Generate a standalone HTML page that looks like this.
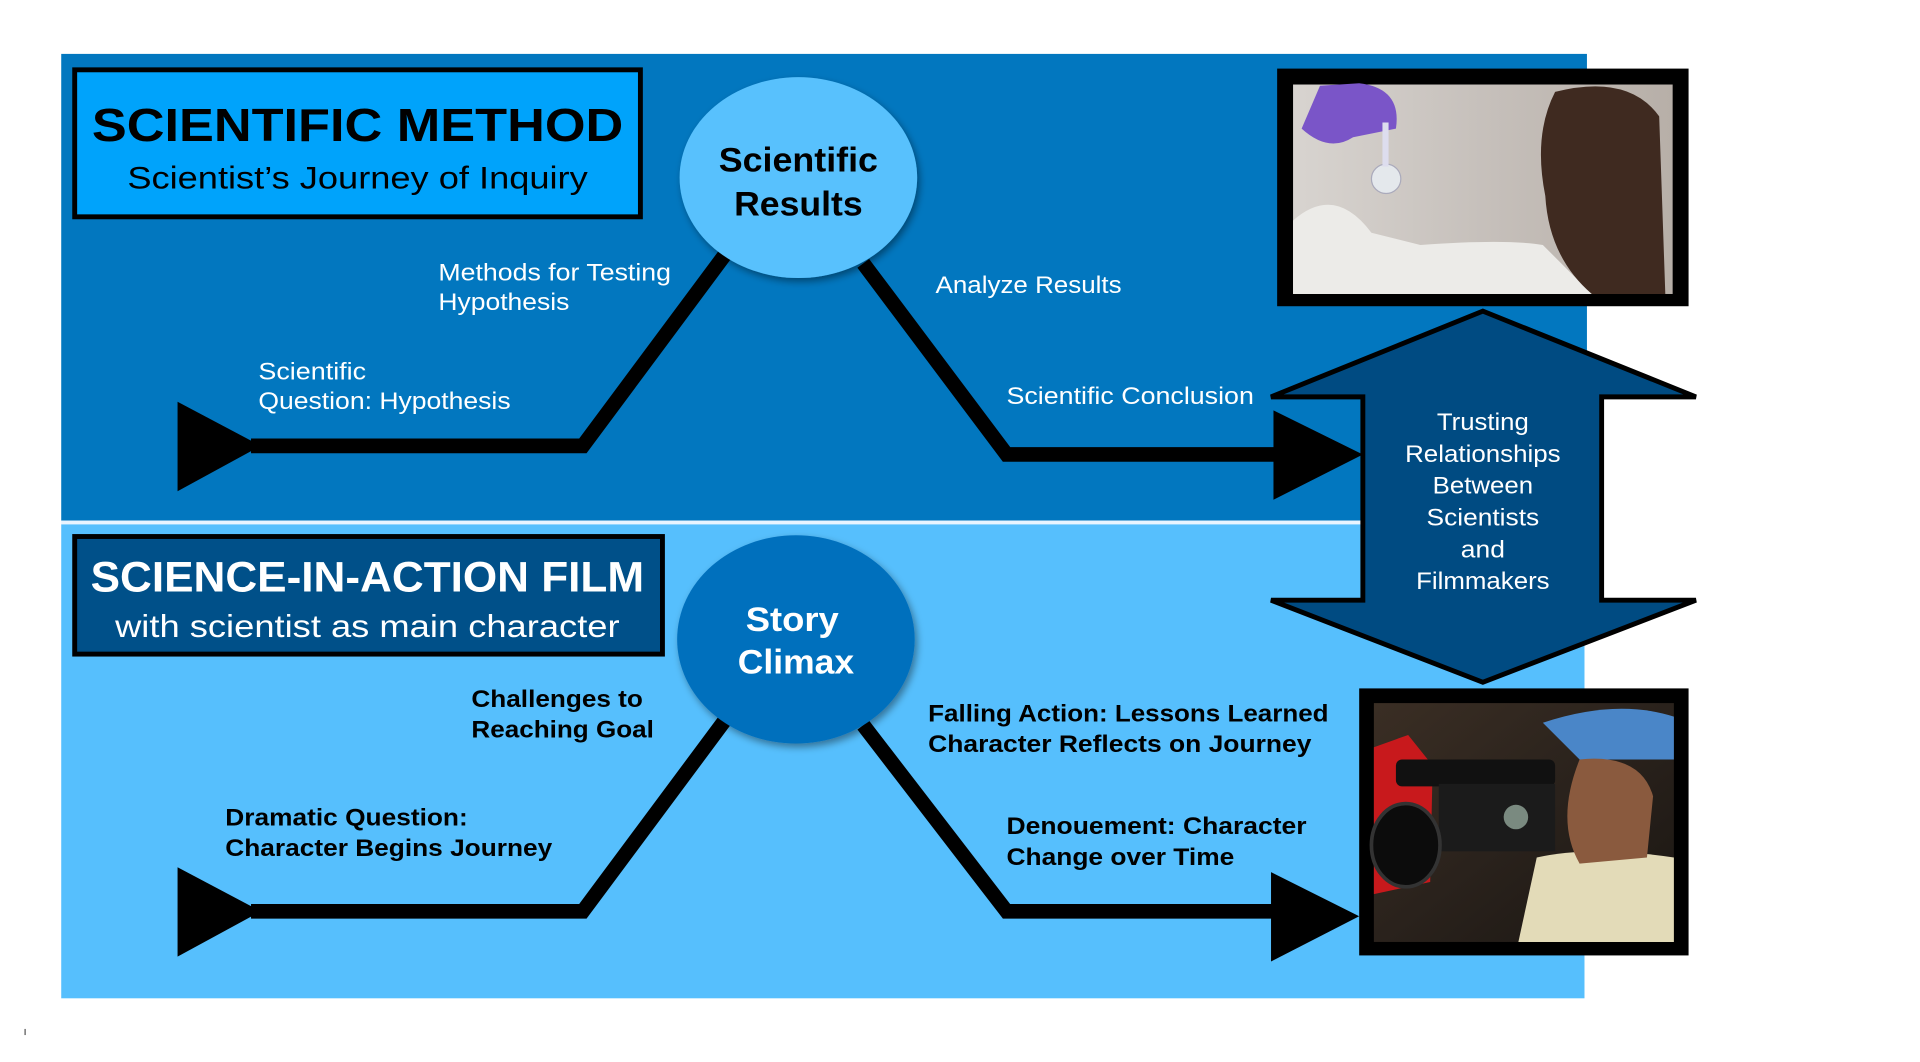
<!DOCTYPE html>
<html><head><meta charset="utf-8"><style>
html,body{margin:0;padding:0;background:#fff;width:1920px;height:1062px;overflow:hidden}
svg{display:block}
text{font-family:"Liberation Sans",sans-serif}
</style></head><body>
<svg width="1920" height="1062" viewBox="0 0 1568 867" preserveAspectRatio="none" xmlns="http://www.w3.org/2000/svg">
<defs>
<linearGradient id="p1" x1="0" y1="0" x2="1" y2="0">
<stop offset="0" stop-color="#d8d4d0"/><stop offset="0.5" stop-color="#c6c0bb"/><stop offset="1" stop-color="#b7afa8"/>
</linearGradient>
<linearGradient id="p2" x1="0" y1="0" x2="1" y2="1">
<stop offset="0" stop-color="#3a2e24"/><stop offset="0.5" stop-color="#2a221c"/><stop offset="1" stop-color="#1a1612"/>
</linearGradient>
<filter id="sh" x="-20%" y="-20%" width="140%" height="140%"><feDropShadow dx="2" dy="3" stdDeviation="3" flood-opacity="0.4"/></filter>
</defs>
<!-- panels -->
<rect x="50" y="44" width="1246" height="381" fill="#0277bf"/>
<rect x="50" y="428" width="1244" height="387" fill="#56bffd"/>
<rect x="50" y="425" width="1062" height="3" fill="#e8f4ff"/>
<rect x="20" y="840" width="1" height="5" fill="#555"/>

<!-- title box 1 -->
<rect x="61" y="57" width="462" height="120" fill="#00a3fb" stroke="#000" stroke-width="4"/>
<text x="292" y="115" font-size="38" font-weight="bold" text-anchor="middle" textLength="434" lengthAdjust="spacingAndGlyphs" fill="#000">SCIENTIFIC METHOD</text>
<text x="292" y="154" font-size="26" text-anchor="middle" textLength="376" lengthAdjust="spacingAndGlyphs" fill="#000">Scientist’s Journey of Inquiry</text>

<!-- top lines -->
<polyline points="205,364 476,364 592,208" fill="none" stroke="#000" stroke-width="12" stroke-linejoin="miter"/>
<polyline points="705,215 822,371 1050,371" fill="none" stroke="#000" stroke-width="12" stroke-linejoin="miter"/>
<polygon points="145,328 145,401 213,364" fill="#000"/>
<polygon points="1040,335 1040,408 1113,371" fill="#000"/>

<ellipse cx="652" cy="145" rx="97" ry="82" fill="#59c1fd" filter="url(#sh)"/>
<text x="652" y="140" font-size="28" font-weight="bold" text-anchor="middle" textLength="130" lengthAdjust="spacingAndGlyphs">Scientific</text>
<text x="652" y="176" font-size="28" font-weight="bold" text-anchor="middle" textLength="105" lengthAdjust="spacingAndGlyphs">Results</text>

<g fill="#fff" font-size="20">
<text x="358" y="229" textLength="190" lengthAdjust="spacingAndGlyphs">Methods for Testing</text>
<text x="358" y="253" textLength="107" lengthAdjust="spacingAndGlyphs">Hypothesis</text>
<text x="211" y="310" textLength="88" lengthAdjust="spacingAndGlyphs">Scientific</text>
<text x="211" y="334" textLength="206" lengthAdjust="spacingAndGlyphs">Question: Hypothesis</text>
<text x="764" y="239" textLength="152" lengthAdjust="spacingAndGlyphs">Analyze Results</text>
<text x="822" y="330" textLength="202" lengthAdjust="spacingAndGlyphs">Scientific Conclusion</text>
</g>

<!-- photo 1 -->
<rect x="1043" y="56" width="336" height="194" fill="#000"/>
<rect x="1056" y="69" width="310" height="171" fill="url(#p1)"/>
<path d="M1056,180 Q1090,150 1120,190 L1160,200 Q1230,195 1260,200 L1300,240 L1056,240 Z" fill="#ecebe8"/>
<path d="M1270,75 Q1330,60 1355,95 L1360,240 L1300,240 Q1265,210 1262,160 Q1252,110 1270,75 Z" fill="#3f2a20"/>
<path d="M1078,70 L1110,68 Q1145,72 1140,105 L1105,112 Q1085,125 1063,105 Z" fill="#7a55c8"/>
<circle cx="1132" cy="146" r="12" fill="#e4e8ec" stroke="#aab" stroke-width="1"/>
<rect x="1129" y="100" width="5" height="36" fill="#dde"/>

<!-- double arrow -->
<polygon points="1211,254 1385,324 1308,324 1308,490 1385,490 1211,557 1038,490 1113,490 1113,324 1038,324" fill="#004b82" stroke="#000" stroke-width="4" stroke-linejoin="miter"/>
<g fill="#fff" font-size="20" text-anchor="middle">
<text x="1211" y="351" textLength="75" lengthAdjust="spacingAndGlyphs">Trusting</text>
<text x="1211" y="377" textLength="127" lengthAdjust="spacingAndGlyphs">Relationships</text>
<text x="1211" y="403" textLength="82" lengthAdjust="spacingAndGlyphs">Between</text>
<text x="1211" y="429" textLength="92" lengthAdjust="spacingAndGlyphs">Scientists</text>
<text x="1211" y="455" textLength="36" lengthAdjust="spacingAndGlyphs">and</text>
<text x="1211" y="481" textLength="109" lengthAdjust="spacingAndGlyphs">Filmmakers</text>
</g>

<!-- title box 2 -->
<rect x="61" y="438" width="480" height="96" fill="#005089" stroke="#000" stroke-width="4"/>
<text x="300" y="483" font-size="35" font-weight="bold" text-anchor="middle" textLength="452" lengthAdjust="spacingAndGlyphs" fill="#fff">SCIENCE-IN-ACTION FILM</text>
<text x="300" y="520" font-size="26" text-anchor="middle" textLength="412" lengthAdjust="spacingAndGlyphs" fill="#fff">with scientist as main character</text>

<!-- bottom lines -->
<polyline points="205,744 476,744 592,588" fill="none" stroke="#000" stroke-width="12"/>
<polyline points="705,592 822,744 1045,744" fill="none" stroke="#000" stroke-width="12"/>
<polygon points="145,708 145,781 213,744" fill="#000"/>
<polygon points="1038,712 1038,785 1110,748" fill="#000"/>

<ellipse cx="650" cy="522" rx="97" ry="85" fill="#0570bd" filter="url(#sh)"/>
<text x="647" y="515" font-size="28" font-weight="bold" text-anchor="middle" fill="#fff" textLength="76" lengthAdjust="spacingAndGlyphs">Story</text>
<text x="650" y="550" font-size="28" font-weight="bold" text-anchor="middle" fill="#fff" textLength="95" lengthAdjust="spacingAndGlyphs">Climax</text>

<g fill="#000" font-size="20" font-weight="bold">
<text x="385" y="577" textLength="140" lengthAdjust="spacingAndGlyphs">Challenges to</text>
<text x="385" y="602" textLength="149" lengthAdjust="spacingAndGlyphs">Reaching Goal</text>
<text x="184" y="674" textLength="198" lengthAdjust="spacingAndGlyphs">Dramatic Question:</text>
<text x="184" y="699" textLength="267" lengthAdjust="spacingAndGlyphs">Character Begins Journey</text>
<text x="758" y="589" textLength="327" lengthAdjust="spacingAndGlyphs">Falling Action: Lessons Learned</text>
<text x="758" y="614" textLength="313" lengthAdjust="spacingAndGlyphs">Character Reflects on Journey</text>
<text x="822" y="681" textLength="245" lengthAdjust="spacingAndGlyphs">Denouement: Character</text>
<text x="822" y="706" textLength="186" lengthAdjust="spacingAndGlyphs">Change over Time</text>
</g>

<!-- photo 2 -->
<rect x="1110" y="562" width="269" height="218" fill="#000"/>
<rect x="1122" y="574" width="245" height="195" fill="url(#p2)"/>
<path d="M1122,610 L1150,600 L1170,625 L1168,720 L1122,730 Z" fill="#c8191c"/>
<path d="M1260,590 Q1320,570 1367,585 L1367,620 L1290,620 Z" fill="#4a86c8"/>
<path d="M1255,700 Q1300,690 1367,700 L1367,769 L1240,769 Z" fill="#e3dbb8"/>
<path d="M1290,620 Q1340,615 1350,650 L1345,700 L1290,705 Q1270,670 1290,620 Z" fill="#8a5a3e"/>
<rect x="1140" y="620" width="130" height="22" rx="5" fill="#111"/>
<rect x="1175" y="640" width="95" height="55" fill="#1b1b1b"/>
<ellipse cx="1148" cy="690" rx="28" ry="34" fill="#0c0c0c" stroke="#333" stroke-width="3"/>
<circle cx="1238" cy="667" r="10" fill="#7a8a80"/>
</svg>
</body></html>
